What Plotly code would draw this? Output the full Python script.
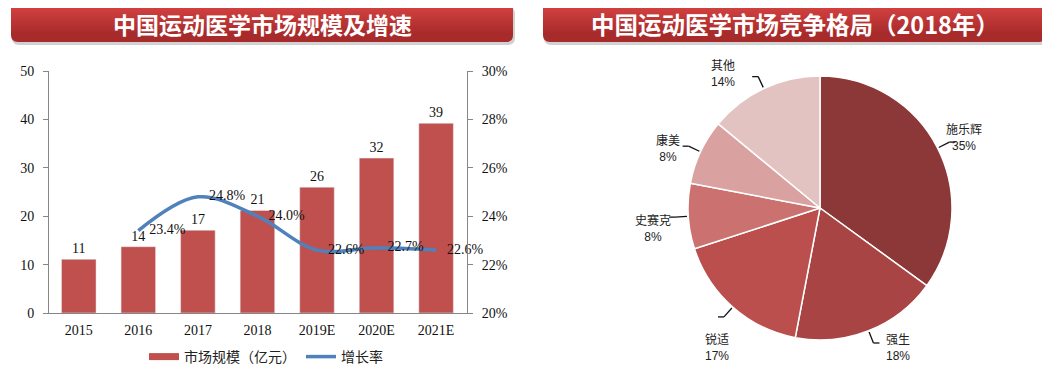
import plotly.graph_objects as go
import numpy as np

# ---------------- data ----------------
years = ["2015", "2016", "2017", "2018", "2019E", "2020E", "2021E"]
market_size = [11.1, 13.7, 17.1, 21.2, 26.0, 32.0, 39.2]
growth_years = ["2016", "2017", "2018", "2019E", "2020E", "2021E"]
growth_rate = [23.4, 24.8, 24.0, 22.6, 22.7, 22.6]

companies = ["施乐辉", "强生", "锐适", "史赛克", "康美", "其他"]
shares = [35, 18, 17, 8, 8, 14]
pie_colors = ["#8C3738", "#A84443", "#BA4F4D", "#CB7270", "#D9A2A1", "#E3C3C2"]

left_title = "中国运动医学市场规模及增速"
right_title = "中国运动医学市场竞争格局（2018年）"
bar_name = "市场规模（亿元）"
line_name = "增长率"

W, H = 1050, 376
OFF = 8  # page body margin offset of the plot div
def px(x):
    return (x - OFF) / W
def py(y):
    return (H - (y - OFF)) / H

serif = "Liberation Serif, Times New Roman, serif"
cjk = "Noto Sans CJK SC, sans-serif"
sans = "Liberation Sans, Arial, sans-serif"

fig = go.Figure()

fig.add_trace(go.Bar(
    x=years, y=market_size, name=bar_name, marker_color="#C0504D",
    width=0.58, text=[f"{v:.0f}" for v in market_size], textposition="outside",
    textfont=dict(family=serif, size=14, color="#111"), cliponaxis=False,
    showlegend=False, xaxis="x", yaxis="y"))

fig.add_trace(go.Scatter(
    x=growth_years, y=growth_rate, name=line_name, mode="lines+markers+text",
    line=dict(color="#4F81BD", width=3.5, shape="spline", smoothing=1.0),
    marker=dict(size=16, color="rgba(0,0,0,0)"),
    text=[f"{v:.1f}%" for v in growth_rate], textposition="middle right",
    textfont=dict(family=serif, size=14, color="#111"), cliponaxis=False,
    showlegend=False, xaxis="x", yaxis="y2"))

# legend-only entries (styled like the reference legend)
fig.add_trace(go.Scatter(x=[None], y=[None], mode="lines", name=bar_name,
                         line=dict(color="#C0504D", width=7), xaxis="x", yaxis="y"))
fig.add_trace(go.Scatter(x=[None], y=[None], mode="lines", name=line_name,
                         line=dict(color="#4F81BD", width=3.5), xaxis="x", yaxis="y"))

# ---------------- pie ----------------
PCX, PCY, PR = 820, 208, 132  # pie centre / radius in pixels
fig.add_trace(go.Pie(
    labels=companies, values=shares, sort=False, direction="clockwise", rotation=0,
    marker=dict(colors=pie_colors, line=dict(color="white", width=1.5)),
    textinfo="none", hoverinfo="label+percent", showlegend=False, automargin=False,
    domain=dict(x=[px(PCX - 220), px(PCX + 220)], y=[py(PCY + PR), py(PCY - PR)])))

# label offsets (pixels) relative to a point 1.2 radii out along each slice's mid-angle
label_nudge = [(3, 0), (20, -9), (2, 20), (-9, 10), (-9, 7), (-30, 8)]
vals = np.array(shares, dtype=float)
cum = np.cumsum(vals) - vals / 2
theta = 2 * np.pi * cum / vals.sum()
for name, v, th, (dx, dy) in zip(companies, vals, theta, label_nudge):
    s, c = np.sin(th), np.cos(th)
    lx = PCX + 1.2 * PR * s + dx
    ly = PCY - 1.2 * PR * c + dy
    pct = 100 * v / vals.sum()
    fig.add_annotation(x=px(lx), y=py(ly), xref="paper", yref="paper", showarrow=False,
                       text=f"{name}<br><span style='font-family:{sans}'>{pct:.0f}%</span>",
                       font=dict(family=cjk, size=12, color="#222"), align="center",
                       xanchor="center", yanchor="middle")
    # leader line
    x0, y0 = PCX + 1.01 * PR * s, PCY - 1.01 * PR * c
    x1, y1 = PCX + 1.1 * PR * s, PCY - 1.1 * PR * c
    fig.add_shape(type="line", x0=px(x0), y0=py(y0), x1=px(x1), y1=py(y1),
                  xref="paper", yref="paper", line=dict(color="#111", width=1.3))
    hook = 6 if s > 0 else -6
    fig.add_shape(type="line", x0=px(x1), y0=py(y1), x1=px(x1 + hook), y1=py(y1),
                  xref="paper", yref="paper", line=dict(color="#111", width=1.3))

axis_color = "#868686"
fig.update_layout(
    width=W, height=H, paper_bgcolor="white", plot_bgcolor="white",
    margin=dict(l=0, r=0, t=0, b=0, autoexpand=False),
    xaxis=dict(domain=[px(49), px(467)], anchor="y", showgrid=False, showline=True,
               linecolor=axis_color, linewidth=1, ticks="", ticklabelstandoff=4,
               automargin=False, tickfont=dict(family=serif, size=14, color="#111")),
    yaxis=dict(domain=[py(313), py(71)], range=[0, 50], dtick=10, showgrid=False,
               showline=True, linecolor=axis_color, ticks="outside", ticklen=5,
               tickcolor=axis_color, zeroline=False, ticklabelstandoff=6, automargin=False,
               tickfont=dict(family=serif, size=14, color="#111")),
    yaxis2=dict(overlaying="y", side="right", anchor="x", range=[20, 30], dtick=2,
                ticksuffix="%", showgrid=False, showline=True, linecolor=axis_color,
                ticks="outside", ticklen=5, tickcolor=axis_color, zeroline=False,
                ticklabelstandoff=6, automargin=False,
                tickfont=dict(family=serif, size=14, color="#111")),
    legend=dict(orientation="h", x=px(266), xanchor="center", y=py(357), yanchor="middle",
                font=dict(family=cjk, size=14, color="#222"), itemwidth=30,
                bgcolor="rgba(0,0,0,0)"),
)

# ---------------- title banners ----------------
def rounded_path(x0, y0, x1, y1, r):
    X0, X1 = px(x0), px(x1)
    Y0, Y1 = py(y0), py(y1)
    rx, ry = r / W, r / H
    return (f"M {X0+rx},{Y0} L {X1-rx},{Y0} Q {X1},{Y0} {X1},{Y0-ry} "
            f"L {X1},{Y1+ry} Q {X1},{Y1} {X1-rx},{Y1} L {X0+rx},{Y1} "
            f"Q {X0},{Y1} {X0},{Y1+ry} L {X0},{Y0-ry} Q {X0},{Y0} {X0+rx},{Y0} Z")

def banner(x0, x1, text, size):
    y0, y1, r = 4, 42, 7
    fig.add_shape(type="path", path=rounded_path(x0 + 1, y0 + 3, x1 + 2, y1 + 3, r),
                  xref="paper", yref="paper", fillcolor="rgba(0,0,0,0.18)", line_width=0,
                  layer="below")
    fig.add_shape(type="path", path=rounded_path(x0, y0, x1, y1, r), xref="paper", yref="paper",
                  fillcolor="#A82B2B", line_width=0, layer="below")
    top_c = np.array([0xD4, 0x42, 0x41])
    bot_c = np.array([0xA8, 0x2B, 0x2B])
    n = 12
    edges = np.linspace(y0 + 1, y1 - r, n + 1)
    for i in range(n):
        t = i / (n - 1)
        c = (top_c * (1 - t) + bot_c * t).astype(int)
        if i == 0:
            fig.add_shape(type="path", path=rounded_path(x0, y0, x1, edges[1] + r, r),
                          xref="paper", yref="paper", fillcolor=f"rgb({c[0]},{c[1]},{c[2]})",
                          line_width=0, layer="below")
        else:
            fig.add_shape(type="rect", x0=px(x0), x1=px(x1), y0=py(edges[i]), y1=py(edges[i + 1] + 0.5),
                          xref="paper", yref="paper", fillcolor=f"rgb({c[0]},{c[1]},{c[2]})",
                          line_width=0, layer="below")
    fig.add_annotation(x=px((x0 + x1) / 2), y=py(24), xref="paper", yref="paper", text=f"<b>{text}</b>",
                       showarrow=False, font=dict(family=cjk, size=size, color="white"),
                       xanchor="center", yanchor="middle", borderpad=0)

banner(11, 513, left_title, 23)
banner(543, 1046, right_title, 23.5)

fig.write_html("out.html")
